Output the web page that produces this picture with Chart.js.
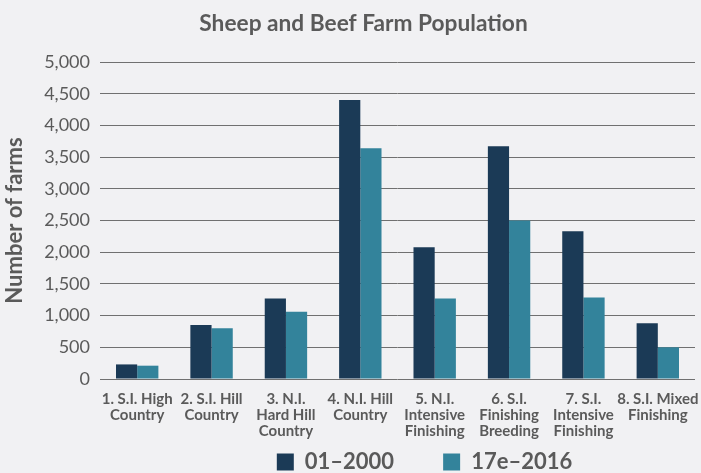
<!DOCTYPE html>
<html>
<head>
<meta charset="utf-8">
<script src="https://cdn.jsdelivr.net/npm/chart.js@4"></script>
<style>
  html, body { margin: 0; padding: 0; background: #f1f1f3; }
  #wrap { width: 701px; height: 473px; }
</style>
</head>
<body>
<div id="wrap"><canvas id="farms"></canvas></div>
<script>
// farm classes and counts
const categories = [
    ['1. S.I. High', 'Country'],
    ['2. S.I. Hill', 'Country'],
    ['3. N.I.', 'Hard Hill', 'Country'],
    ['4. N.I. Hill', 'Country'],
    ['5. N.I.', 'Intensive', 'Finishing'],
    ['6. S.I.', 'Finishing', 'Breeding'],
    ['7. S.I.', 'Intensive', 'Finishing'],
    ['8. S.I. Mixed', 'Finishing']
];
const seriesNames = ['01–2000', '17e–2016'];
const farms2000 = [230, 850, 1270, 4400, 2080, 3670, 2330, 880];
const farms2016 = [210, 800, 1060, 3640, 1270, 2500, 1285, 500];
const yTicks = [0, 500, 1000, 1500, 2000, 2500, 3000, 3500, 4000, 4500, 5000];

const textGrey = '#5a5a5a';
const legendPad = 49;

// legend: keep its box small in the layout, then place it and nudge title/legend sideways
const placeBlocks = {
    id: 'placeBlocks',
    beforeLayout(chart) {
        const lg = chart.legend;
        if (lg && !lg._wrapped) {
            const fit = lg.fit;
            lg.fit = function() { fit.call(this); this.height = 30; };
            lg._wrapped = true;
        }
    },
    afterLayout(chart) {
        if (chart.titleBlock) { chart.titleBlock.left += 16; chart.titleBlock.right += 16; }
        const x = chart.scales.x;
        if (x) x.bottom = 452;
        const lg = chart.legend;
        if (lg) {
            lg.left += 77; lg.right += 77;
            lg.top = 462 - legendPad - 11;
            lg.bottom = chart.height;
        }
    }
};

const ctx = document.getElementById('farms').getContext('2d');
new Chart(ctx, {
    type: 'bar',
    data: {
        labels: categories,
        datasets: [{
            label: seriesNames[0],
            data: farms2000,
            backgroundColor: '#1b3a56'
        }, {
            label: seriesNames[1],
            data: farms2016,
            backgroundColor: '#33839b'
        }]
    },
    options: {
        responsive: true,
        maintainAspectRatio: false,
        animation: false,
        layout: { padding: { top: 10, right: 6, left: 0, bottom: 0 } },
        datasets: { bar: { categoryPercentage: 0.57, barPercentage: 1 } },
        plugins: {
            title: {
                display: true,
                text: 'Sheep and Beef Farm Population',
                color: textGrey,
                font: { family: 'Lato', size: 22.7, weight: 'bold', lineHeight: 1.2 },
                padding: { top: 0, bottom: 24.8 }
            },
            legend: {
                position: 'bottom',
                labels: {
                    color: textGrey,
                    font: { family: 'Lato', size: 22, weight: 'bold' },
                    boxWidth: 17,
                    boxHeight: 17,
                    padding: legendPad
                }
            },
            tooltip: { enabled: false }
        },
        scales: {
            x: {
                afterFit(scale) {
                    scale.height = 64;
                    scale.paddingLeft = 0;
                    scale.paddingRight = 0;
                },
                grid: { display: false },
                border: { display: false },
                ticks: {
                    color: textGrey,
                    font: { family: 'Lato', size: 15, weight: 'bold', lineHeight: 1.07 },
                    maxRotation: 0,
                    autoSkip: false,
                    padding: 4
                }
            },
            y: {
                min: 0,
                max: 5000,
                afterBuildTicks(scale) { scale.ticks = yTicks.map(v => ({ value: v })); },
                afterFit(scale) { scale.width = 100; },
                grid: { color: '#707070', lineWidth: 1, drawTicks: false },
                border: { display: false },
                title: {
                    display: true,
                    text: 'Number of farms',
                    color: textGrey,
                    font: { family: 'Lato', size: 22, weight: 'bold', lineHeight: 1.2 },
                    padding: { top: 2, bottom: 0 }
                },
                ticks: {
                    color: textGrey,
                    font: { family: 'Lato', size: 18 },
                    padding: 10,
                    callback: v => v.toLocaleString('en-US')
                }
            }
        }
    },
    plugins: [placeBlocks]
});
</script>
</body>
</html>
